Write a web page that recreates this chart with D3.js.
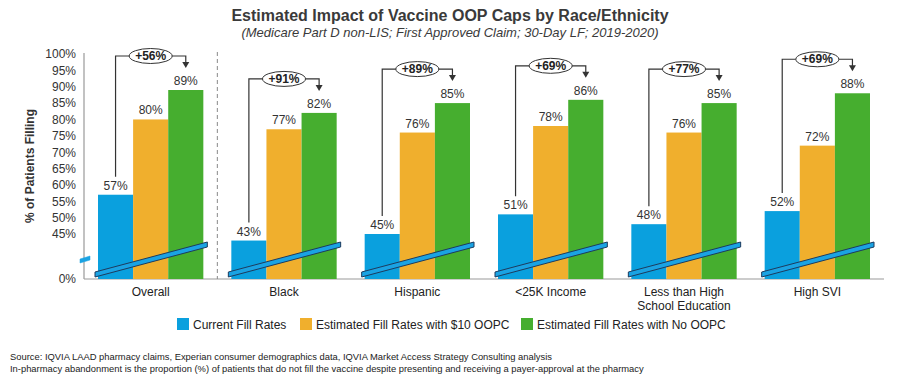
<!DOCTYPE html>
<html><head><meta charset="utf-8">
<script src="https://cdn.jsdelivr.net/npm/d3@7"></script>
<style>body{margin:0;background:#fff}svg{font-family:"Liberation Sans",Arial,sans-serif}</style>
</head><body><svg id="c" width="900" height="390"></svg>
<script>
const categories = ["Overall","Black","Hispanic","<25K Income","Less than High\nSchool Education","High SVI"];
const seriesNames = ["Current Fill Rates","Estimated Fill Rates with $10 OOPC","Estimated Fill Rates with No OOPC"];
const currentRates = [57,43,45,51,48,52];
const oopc10Rates = [80,77,76,78,76,72];
const noOopcRates = [89,82,85,86,85,88];
const increases = [56,91,89,69,77,69];
const yTicks = [0,45,50,55,60,65,70,75,80,85,90,95,100];
const colors = ["#0AA0DE","#F0AF2D","#46AE2F"];

const svg = d3.select("#c");
const txt = "#333";
const x = d3.scaleBand().domain(categories).range([84,884]).paddingInner(0.21).paddingOuter(0.105);
const xs = d3.scaleBand().domain([0,1,2]).range([0,x.bandwidth()]);
// broken axis: 0 sits at the baseline, visible range starts ~31%
const y = d3.scaleLinear().domain([0,31.25,100]).range([279,279,54]);
const series = [currentRates,oopc10Rates,noOopcRates];

// title
svg.append("text").attr("x",450).attr("y",21).attr("text-anchor","middle").attr("font-size",16).attr("font-weight","bold").attr("fill","#3a3a3a").text("Estimated Impact of Vaccine OOP Caps by Race/Ethnicity");
svg.append("text").attr("x",450).attr("y",37).attr("text-anchor","middle").attr("font-size",13).attr("font-style","italic").attr("fill","#3a3a3a").text("(Medicare Part D non-LIS; First Approved Claim; 30-Day LF; 2019-2020)");

// y axis
const yAxis = svg.append("g").attr("transform","translate(84,0)")
  .call(d3.axisLeft(y).tickValues(yTicks).tickSize(0).tickPadding(8).tickFormat(d=>d+"%"));
yAxis.select(".domain").remove();
yAxis.selectAll("text").attr("font-size",12).attr("fill",txt).attr("font-family","Liberation Sans, Arial, sans-serif");
svg.append("line").attr("x1",84).attr("x2",84).attr("y1",y(100)-1).attr("y2",y(0)).attr("stroke","#999").attr("stroke-width",1.2);
svg.append("line").attr("x1",84).attr("x2",884).attr("y1",y(0)).attr("y2",y(0)).attr("stroke","#999").attr("stroke-width",1.2);
svg.append("text").attr("transform","translate(34,166) rotate(-90)").attr("text-anchor","middle").attr("font-size",12).attr("font-weight","bold").attr("fill",txt).text("% of Patients Filling");

// separator
const sepX = (x(categories[0])+x.bandwidth()+x(categories[1]))/2;
svg.append("line").attr("x1",sepX).attr("x2",sepX).attr("y1",52).attr("y2",y(0)).attr("stroke","#888").attr("stroke-dasharray","4,3");

// bars
const g = svg.append("g");
categories.forEach((c,i)=>{
  series.forEach((s,j)=>{
    const bx = x(c)+xs(j);
    g.append("rect").attr("x",bx).attr("y",y(s[i])).attr("width",xs.bandwidth()).attr("height",y(0)-y(s[i])).attr("fill",colors[j]);
    g.append("text").attr("x",bx+xs.bandwidth()/2).attr("y",y(s[i])-5).attr("text-anchor","middle").attr("font-size",12).attr("fill",txt).text(s[i]+"%");
  });
  // break stripe
  const x0 = x(c)-3, x1 = x(c)+x.bandwidth()+4;
  const yl = 272, yr = 242, t = 5;
  g.append("polygon").attr("points",`${x0},${yl} ${x1},${yr} ${x1},${yr+t} ${x0},${yl+t}`).attr("fill","#1AA3E3").attr("stroke","#1d3b5e").attr("stroke-width",1);
  // callout
  const bxC = x(c)+xs(0)+xs.bandwidth()/2, gxC = x(c)+xs(2)+xs.bandwidth()/2;
  const cy = y(noOopcRates[i])-34;
  const ay = y(noOopcRates[i])-22;
  g.append("path").attr("d",`M${bxC},${y(currentRates[i])-18} V${cy} H${gxC} V${ay-5}`).attr("fill","none").attr("stroke","#333").attr("stroke-width",1.2);
  g.append("path").attr("d",`M${gxC-3.5},${ay-6} L${gxC+3.5},${ay-6} L${gxC},${ay} Z`).attr("fill","#333");
  const cx = x(c)+x.bandwidth()/2;
  g.append("ellipse").attr("cx",cx).attr("cy",cy).attr("rx",21.5).attr("ry",7.5).attr("fill","#fff").attr("stroke","#333").attr("stroke-width",1);
  g.append("text").attr("x",cx).attr("y",cy+4).attr("text-anchor","middle").attr("font-size",12).attr("font-weight","bold").attr("fill","#222").text("+"+increases[i]+"%");
  // category label
  const lines = c.split("\n");
  lines.forEach((l,k)=>{
    g.append("text").attr("x",cx).attr("y",296+k*14).attr("text-anchor","middle").attr("font-size",12).attr("fill","#222").text(l);
  });
});
// y-axis break marker
svg.append("polygon").attr("points","80,259 90,256 90,260 80,263").attr("fill","#1AA3E3").attr("stroke","#1AA3E3").attr("stroke-width",0.5);

// legend
const legX = [177,300,521];
seriesNames.forEach((n,j)=>{
  svg.append("rect").attr("x",legX[j]).attr("y",318).attr("width",12).attr("height",12).attr("fill",colors[j]);
  svg.append("text").attr("x",legX[j]+16).attr("y",328.5).attr("font-size",12).attr("fill","#222").text(n);
});

// footnotes
svg.append("text").attr("x",10).attr("y",360).attr("font-size",9.4).attr("fill","#222").text("Source: IQVIA LAAD pharmacy claims, Experian consumer demographics data, IQVIA Market Access Strategy Consulting analysis");
svg.append("text").attr("x",10).attr("y",372).attr("font-size",9.4).attr("fill","#222").text("In-pharmacy abandonment is the proportion (%) of patients that do not fill the vaccine despite presenting and receiving a payer-approval at the pharmacy");
</script></body></html>
